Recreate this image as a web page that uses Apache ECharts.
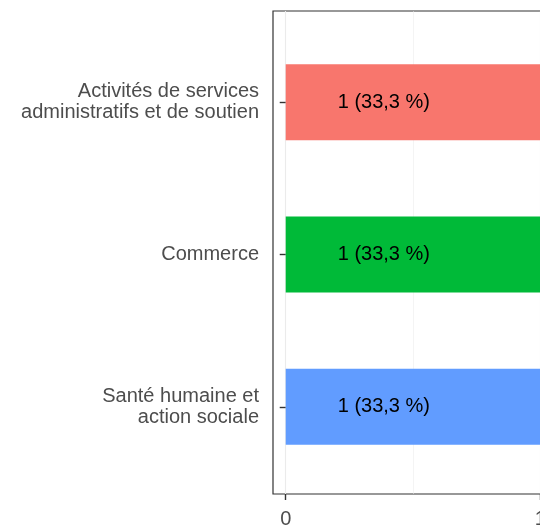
<!DOCTYPE html>
<html>
<head>
<meta charset="utf-8">
<script src="https://cdn.jsdelivr.net/npm/echarts@6/dist/echarts.min.js"></script>
<style>
    html, body {margin: 0; padding: 0; background: #fff; overflow: hidden;}
    #chart-1 {width: 570px; height: 529px;}
</style>
</head>
<body>
<div id="chart-1"></div>
<script type="text/javascript">
    var categories = ['Activités de services\nadministratifs et de soutien', 'Commerce', 'Santé humaine et\naction sociale'];
    var values = [1, 1, 1];
    var barColors = ['#F8766D', '#00BA38', '#619CFF'];
    var majorTicks = [0, 1];
    var minorTicks = [0.5];

    var total = values.reduce(function (a, b) { return a + b; }, 0);
    var font = "'Liberation Sans', Arial, sans-serif";

    // le panneau dépasse à droite de la fenêtre (540px), comme dans l'original
    var myChart = echarts.init(document.getElementById('chart-1'));
    var option = {
        animation: false,
        grid: [
            // panneau (bordure + lignes de grille)
            {left: 273, top: 11, right: 17, bottom: 31, show: true, borderColor: '#333333', borderWidth: 1.2, backgroundColor: '#ffffff'},
            // barres (expansion de l'axe discret)
            {left: 273, top: 26, right: 17, bottom: 46}
        ],
        xAxis: [
            {
                gridIndex: 0, type: 'value', min: -0.05, max: 1.05,
                axisLine: {show: false},
                axisTick: {show: true, length: 6, lineStyle: {color: '#333333', width: 1.4}, customValues: majorTicks},
                axisLabel: {color: '#4D4D4D', fontSize: 20, fontFamily: font, margin: 15, customValues: majorTicks},
                splitLine: {show: true, lineStyle: {color: '#EBEBEB', width: 1.1}}
            },
            {
                gridIndex: 0, type: 'value', min: -0.05, max: 1.05,
                axisLine: {show: false},
                axisTick: {show: false, customValues: minorTicks},
                axisLabel: {show: false, customValues: minorTicks},
                splitLine: {show: true, lineStyle: {color: '#EBEBEB', width: 0.55}}
            },
            {
                gridIndex: 1, type: 'value', min: -0.05, max: 1.05,
                show: false
            }
        ],
        yAxis: [
            {gridIndex: 0, type: 'value', show: false},
            {
                gridIndex: 1, type: 'category', data: categories, inverse: true,
                axisLine: {show: false},
                axisTick: {show: true, length: 6, alignWithLabel: true, lineStyle: {color: '#333333', width: 1.4}},
                axisLabel: {color: '#4D4D4D', fontSize: 20, fontFamily: font, margin: 14, align: 'right', lineHeight: 21, padding: [4, 0, 0, 0]},
                splitLine: {show: false}
            }
        ],
        series: [
            {
                type: 'bar',
                xAxisIndex: 2,
                yAxisIndex: 1,
                barWidth: 76,
                data: values.map(function (v, i) {
                    return {value: v, itemStyle: {color: barColors[i]}};
                }),
                label: {
                    show: true,
                    position: [52, '50%'],
                    verticalAlign: 'middle',
                    color: '#000000',
                    fontSize: 20,
                    fontFamily: font,
                    formatter: function (params) {
                        var pct = (params.value / total * 100).toFixed(1).replace('.', ',');
                        return params.value + ' (' + pct + ' %)';
                    }
                }
            }
        ]
    };
    myChart.setOption(option);
</script>
</body>
</html>
